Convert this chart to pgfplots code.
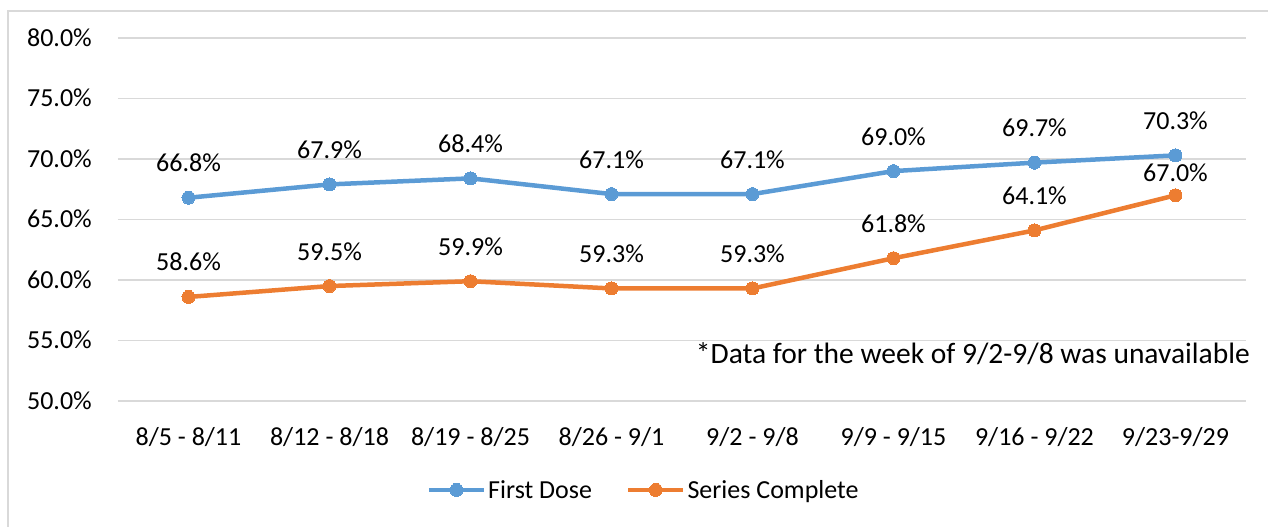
\documentclass[border=0pt]{standalone}
\usepackage{pgfplots}
\pgfplotsset{compat=1.18}
\usepackage{fontspec}
\setmainfont{Carlito}
\definecolor{fd}{HTML}{5B9BD5}
\definecolor{sc}{HTML}{ED7D31}
\definecolor{gridc}{HTML}{D9D9D9}
\begin{document}
\begin{tikzpicture}
\path[use as bounding box] (-118bp,-126bp) rectangle (1150bp,401bp);
\draw[gridc, line width=2bp] (-110bp,-140bp) -- (-110bp,390bp) -- (1160bp,390bp);
\begin{axis}[
  at={(0,0)}, anchor=south west,
  scale only axis, width=1128bp, height=363bp,
  xmin=-0.5, xmax=7.5, ymin=50, ymax=80,
  clip=false,
  /pgf/number format/assume math mode=true,
  font=\fontsize{26bp}{31bp}\selectfont,
  axis line style={draw=none},
  major tick length=0pt,
  ymajorgrids, grid style={gridc, line width=1.8bp},
  ytick={50,55,...,80},
  yticklabel={\pgfmathprintnumber[fixed,fixed zerofill,precision=1]{\tick}\%},
  yticklabel style={inner sep=0pt, anchor=base east, xshift=-26bp, yshift=-8bp},
  xtick={0,...,7},
  xticklabels={8/5 - 8/11, 8/12 - 8/18, 8/19 - 8/25, 8/26 - 9/1, 9/2 - 9/8, 9/9 - 9/15, 9/16 - 9/22, 9/23-9/29},
  xticklabel style={inner sep=0pt, anchor=base, yshift=-44bp},
  nodes near coords={\pgfmathprintnumber[fixed,fixed zerofill,precision=1]{\pgfplotspointmeta}\%},
  every node near coord/.append style={inner sep=0pt, anchor=base, text=black, font=\fontsize{26bp}{31bp}\selectfont},
  legend columns=-1,
  legend style={draw=none, fill=none, at={(0.466,-0.245)}, anchor=center,
    font=\fontsize{26bp}{31bp}\selectfont,
    /tikz/every even column/.append style={column sep=32bp},
    cells={anchor=west}, inner sep=0pt},
  legend image code/.code={\draw[mark repeat=2, mark phase=2, #1] plot coordinates {(0bp,0bp) (27.5bp,0bp) (55bp,0bp)};},
]
\addplot[fd, line width=4.5bp, mark=*, mark size=6.5bp, mark options={fill=fd, draw=fd, line width=0pt},
  every node near coord/.append style={yshift=26bp}]
  coordinates {(0,66.8) (1,67.9) (2,68.4) (3,67.1) (4,67.1) (5,69.0) (6,69.7) (7,70.3)};
\addlegendentry{First Dose}
\addplot[sc, line width=4.5bp, mark=*, mark size=6.5bp, mark options={fill=sc, draw=sc, line width=0pt},
  visualization depends on={\coordindex \as \myidx},
  every node near coord/.append style={yshift={(26-12*equal(\myidx,7))*1bp}}]
  coordinates {(0,58.6) (1,59.5) (2,59.9) (3,59.3) (4,59.3) (5,61.8) (6,64.1) (7,67.0)};
\addlegendentry{Series Complete}
\node[anchor=base east, inner sep=0pt, xshift=4bp, font=\fontsize{29.5bp}{34bp}\selectfont] at (axis cs:7.5,53.06) {*Data for the week of 9/2-9/8 was unavailable};
\end{axis}
\end{tikzpicture}
\end{document}
